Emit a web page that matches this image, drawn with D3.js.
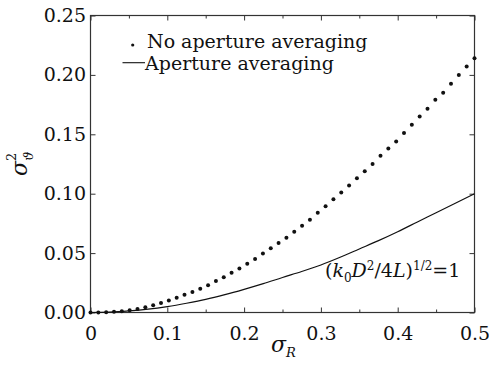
<!DOCTYPE html>
<html><head><meta charset="utf-8">
<script src="https://cdn.jsdelivr.net/npm/d3@7"></script>
<style>body{margin:0;background:#fff}svg{display:block}text{font-family:"DejaVu Serif",serif;fill:#111}</style>
</head><body><svg id="c" width="489" height="365"></svg>
<script>
// No aperture averaging (dots), 50 samples over sigma_R in [0, 0.5]
const dotSigmaR = [0,0.0102,0.0204,0.0306,0.0408,0.0510,0.0612,0.0714,0.0816,0.0918,0.1020,0.1122,0.1224,0.1327,0.1429,0.1531,0.1633,0.1735,0.1837,0.1939,0.2041,0.2143,0.2245,0.2347,0.2449,0.2551,0.2653,0.2755,0.2857,0.2959,0.3061,0.3163,0.3265,0.3367,0.3469,0.3571,0.3673,0.3776,0.3878,0.3980,0.4082,0.4184,0.4286,0.4388,0.4490,0.4592,0.4694,0.4796,0.4898,0.5];
const dotValues = [0,0.0001,0.0003,0.0006,0.0011,0.0019,0.0030,0.0044,0.0060,0.0080,0.0102,0.0125,0.0150,0.0172,0.0200,0.0230,0.0265,0.0297,0.0335,0.0370,0.0410,0.0450,0.0497,0.0540,0.0586,0.0630,0.0680,0.0730,0.0780,0.0840,0.0895,0.0954,0.1010,0.1070,0.1130,0.1190,0.1250,0.1320,0.1380,0.1440,0.1510,0.1580,0.1650,0.1715,0.1790,0.1850,0.1925,0.2000,0.2070,0.2140];
// Aperture averaging (solid line)
const lineSigmaR = [0,0.025,0.05,0.075,0.1,0.125,0.15,0.175,0.2,0.225,0.25,0.275,0.3,0.325,0.35,0.375,0.4,0.425,0.45,0.475,0.5];
const lineValues = [0,0.0003,0.0013,0.0028,0.0050,0.0078,0.0110,0.0150,0.0195,0.0243,0.0295,0.0345,0.0400,0.0465,0.0535,0.0605,0.0680,0.0760,0.0840,0.0920,0.1000];
const xTicks = [0,0.1,0.2,0.3,0.4,0.5];
const xTickLabels = ["0","0.1","0.2","0.3","0.4","0.5"];
const xMinor = [0.05,0.15,0.25,0.35,0.45];
const yTicks = [0,0.05,0.10,0.15,0.20,0.25];
const yTickLabels = ["0.00","0.05","0.10","0.15","0.20","0.25"];
const legendLabels = ["No aperture averaging","Aperture averaging"];

const svg = d3.select("#c");
const L=90.5, R=474.5, T=15.5, B=312.5;
const x = d3.scaleLinear().domain([0,0.5]).range([L,R]);
const y = d3.scaleLinear().domain([0,0.25]).range([B,T]);
const axCol="#333";

svg.append("rect").attr("x",L).attr("y",T).attr("width",R-L).attr("height",B-T)
  .attr("fill","none").attr("stroke",axCol).attr("stroke-width",1.2);

function clean(g){ g.select(".domain").remove(); g.selectAll("line").attr("stroke",axCol); }
const gxb = svg.append("g").attr("transform",`translate(0,${B})`);
gxb.call(d3.axisBottom(x).tickValues(xTicks).tickSize(-5).tickPadding(14).tickFormat((d,i)=>xTickLabels[i]));
clean(gxb);
gxb.selectAll("text").attr("font-size",19).attr("fill","#111").attr("font-family","DejaVu Serif");
svg.append("g").attr("transform",`translate(0,${B})`).call(d3.axisBottom(x).tickValues(xMinor).tickSize(-3).tickFormat("")).call(clean);
svg.append("g").attr("transform",`translate(0,${T})`).call(d3.axisTop(x).tickValues(xTicks).tickSize(-5).tickFormat("")).call(clean);
svg.append("g").attr("transform",`translate(0,${T})`).call(d3.axisTop(x).tickValues(xMinor).tickSize(-3).tickFormat("")).call(clean);

const gyl = svg.append("g").attr("transform",`translate(${L},0)`);
gyl.call(d3.axisLeft(y).tickValues(yTicks).tickSize(-5).tickPadding(4.5).tickFormat((d,i)=>yTickLabels[i]));
clean(gyl);
gyl.selectAll("text").attr("font-size",19).attr("fill","#111").attr("font-family","DejaVu Serif");
svg.append("g").attr("transform",`translate(${R},0)`).call(d3.axisRight(y).tickValues(yTicks).tickSize(-5).tickFormat("")).call(clean);

// solid line
svg.append("path").datum(lineSigmaR.map((s,i)=>[s,lineValues[i]]))
  .attr("d",d3.line().x(d=>x(d[0])).y(d=>y(d[1])).curve(d3.curveMonotoneX))
  .attr("fill","none").attr("stroke","#111").attr("stroke-width",1.2);

// dots
svg.append("g").selectAll("circle").data(dotSigmaR.map((s,i)=>[s,dotValues[i]])).join("circle")
  .attr("cx",d=>x(d[0])).attr("cy",d=>y(d[1])).attr("r",2).attr("fill","#111");

// legend
svg.append("circle").attr("cx",132.7).attr("cy",45).attr("r",1.6).attr("fill","#111");
svg.append("text").attr("x",147).attr("y",48).attr("font-size",19).text(legendLabels[0]);
svg.append("line").attr("x1",122.5).attr("x2",145).attr("y1",62.7).attr("y2",62.7).attr("stroke","#111").attr("stroke-width",1.1);
svg.append("text").attr("x",145).attr("y",69.5).attr("font-size",19).text(legendLabels[1]);

// annotation
const ann = svg.append("text").attr("x",325).attr("y",277).attr("font-size",19);
ann.append("tspan").text("(");
ann.append("tspan").attr("font-style","italic").text("k");
ann.append("tspan").attr("font-size",12).attr("dy",5).text("0");
ann.append("tspan").attr("font-style","italic").attr("dy",-5).text("D");
ann.append("tspan").attr("font-size",12).attr("dy",-7).text("2");
ann.append("tspan").attr("dy",7).text("/4");
ann.append("tspan").attr("font-style","italic").text("L");
ann.append("tspan").text(")");
ann.append("tspan").attr("font-size",12).attr("dy",-7).text("1/2");
ann.append("tspan").attr("dy",7).text("=1");

// x label
const xl = svg.append("text").attr("x",271).attr("y",352).attr("font-size",22);
xl.append("tspan").attr("font-style","italic").text("σ");
xl.append("tspan").attr("font-style","italic").attr("font-size",13).attr("dy",5).text("R");

// y label
const yl = svg.append("text").attr("transform","translate(27,176) rotate(-90)").attr("font-size",22);
yl.append("tspan").attr("font-style","italic").text("σ");
yl.append("tspan").attr("font-size",13).attr("dy",-11).attr("dx",0).text("2");
yl.append("tspan").attr("font-style","italic").attr("font-size",13).attr("dy",17).attr("dx",-8).text("ϑ");
</script></body></html>
